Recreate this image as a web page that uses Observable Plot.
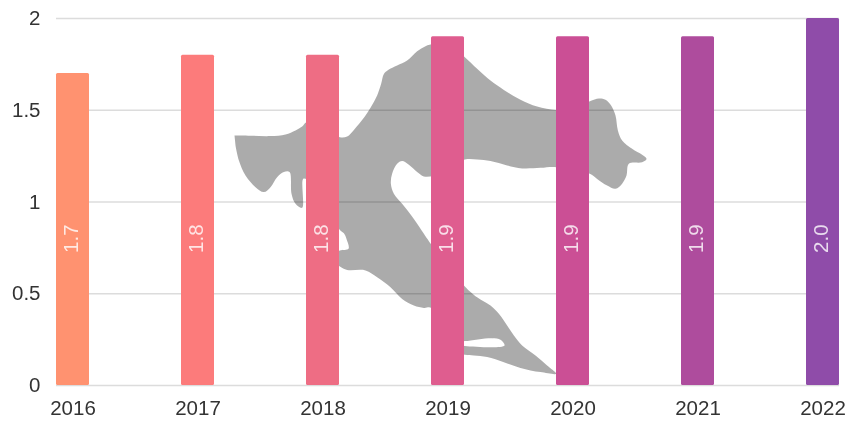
<!DOCTYPE html>
<html>
<head>
<meta charset="utf-8">
<script src="https://cdn.jsdelivr.net/npm/d3@7"></script>
<script src="https://cdn.jsdelivr.net/npm/@observablehq/plot@0.6"></script>
<style>html,body{margin:0;padding:0;background:#fff}svg{display:block;filter:blur(0.35px)}</style>
</head>
<body>
<div id="chart"></div>
<script>
const years = [2016, 2017, 2018, 2019, 2020, 2021, 2022];
const values = [1.7, 1.8, 1.8, 1.9, 1.9, 1.9, 2.0];
const colors = ["#ff9270", "#fc7b7b", "#ee6d84", "#df5d8f", "#cb4f95", "#ae4c9d", "#8f4ca9"];
const yTicks = [0, 0.5, 1, 1.5, 2];

// Silhouette behind the bars in chart units
const mapX = [2017.292,2017.420,2017.580,2017.700,2017.780,2017.833,2017.868,2018.000,2018.135,2018.193,2018.247,2018.327,2018.380,2018.433,2018.465,2018.487,2018.521,2018.593,2018.673,2018.753,2018.820,2018.887,2018.993,2019.135,2019.233,2019.340,2019.447,2019.580,2019.713,2019.865,2020.000,2020.135,2020.207,2020.260,2020.305,2020.340,2020.359,2020.393,2020.473,2020.553,2020.588,2020.553,2020.447,2020.428,2020.393,2020.340,2020.273,2020.193,2020.135,2019.865,2019.740,2019.593,2019.473,2019.340,2019.233,2019.135,2018.993,2018.887,2018.807,2018.753,2018.687,2018.633,2018.593,2018.553,2018.543,2018.567,2018.633,2018.727,2018.807,2018.867,2019.135,2019.233,2019.340,2019.407,2019.473,2019.527,2019.593,2019.700,2019.793,2019.865,2019.740,2019.580,2019.447,2019.313,2019.207,2019.135,2019.047,2019.047,2019.135,2019.452,2019.420,2019.353,2019.135,2019.047,2018.867,2018.807,2018.727,2018.633,2018.540,2018.433,2018.340,2018.193,2018.135,2018.087,2018.087,2018.135,2018.204,2018.188,2018.167,2018.135,2018.087,2017.900,2017.868,2017.841,2017.833,2017.780,2017.748,2017.732,2017.687,2017.633,2017.580,2017.527,2017.460,2017.380,2017.327,2017.300];
const mapY = [1.362,1.361,1.359,1.368,1.390,1.411,1.435,1.420,1.353,1.357,1.393,1.459,1.513,1.580,1.644,1.698,1.720,1.744,1.771,1.822,1.849,1.862,1.871,1.789,1.726,1.662,1.611,1.557,1.520,1.502,1.510,1.549,1.564,1.557,1.526,1.471,1.390,1.335,1.290,1.257,1.235,1.217,1.208,1.144,1.100,1.072,1.090,1.126,1.154,1.190,1.186,1.183,1.199,1.223,1.232,1.232,1.190,1.144,1.139,1.163,1.203,1.223,1.208,1.154,1.099,1.045,0.990,0.908,0.827,0.768,0.540,0.481,0.436,0.391,0.327,0.272,0.218,0.164,0.109,0.064,0.073,0.096,0.127,0.155,0.164,0.167,0.191,0.227,0.215,0.218,0.249,0.258,0.242,0.236,0.423,0.423,0.436,0.472,0.536,0.590,0.627,0.630,0.648,0.681,0.717,0.736,0.745,0.799,0.830,0.848,0.900,1.126,1.126,1.126,0.968,0.990,1.045,1.163,1.163,1.135,1.081,1.054,1.081,1.144,1.226,1.308];

const bars = years.map((year, i) => ({year, value: values[i], color: colors[i]}));
const outline = mapX.map((x, i) => ({x, y: mapY[i]}));
const halfBar = 0.132;

const chart = Plot.plot({
  width: 848,
  height: 421,
  marginTop: 18,
  marginBottom: 36,
  marginLeft: 56,
  marginRight: 9,
  style: {fontFamily: "'Liberation Sans', Arial, sans-serif", background: "#fff"},
  x: {domain: [2016 - halfBar, 2022 + halfBar]},
  y: {domain: [0, 2]},
  marks: [
    Plot.ruleY(yTicks, {stroke: "#dcdcdc", strokeWidth: 1.5}),
    Plot.line(outline, {x: "x", y: "y", fill: "#000", fillOpacity: 0.33, stroke: "none", curve: "catmull-rom"}),
    Plot.rectY(bars, {x1: d => d.year - halfBar, x2: d => d.year + halfBar, y1: 0, y2: "value", fill: "color", rx: 1.5}),
    Plot.text(bars, {x: "year", y: 0.8, dx: -2, text: d => d.value.toFixed(1), rotate: -90, fill: "#fff", fillOpacity: 0.8, fontSize: 20.5}),
    Plot.axisY({ticks: yTicks, tickFormat: d => String(d), tickSize: 0, tickPadding: 16, fontSize: 20.5, label: null, fill: "#333"}),
    Plot.axisX({ticks: years, tickFormat: d => String(d), tickSize: 0, tickPadding: 15, fontSize: 20.5, label: null, fill: "#333"})
  ]
});
document.getElementById("chart").append(chart);
</script>
</body>
</html>
